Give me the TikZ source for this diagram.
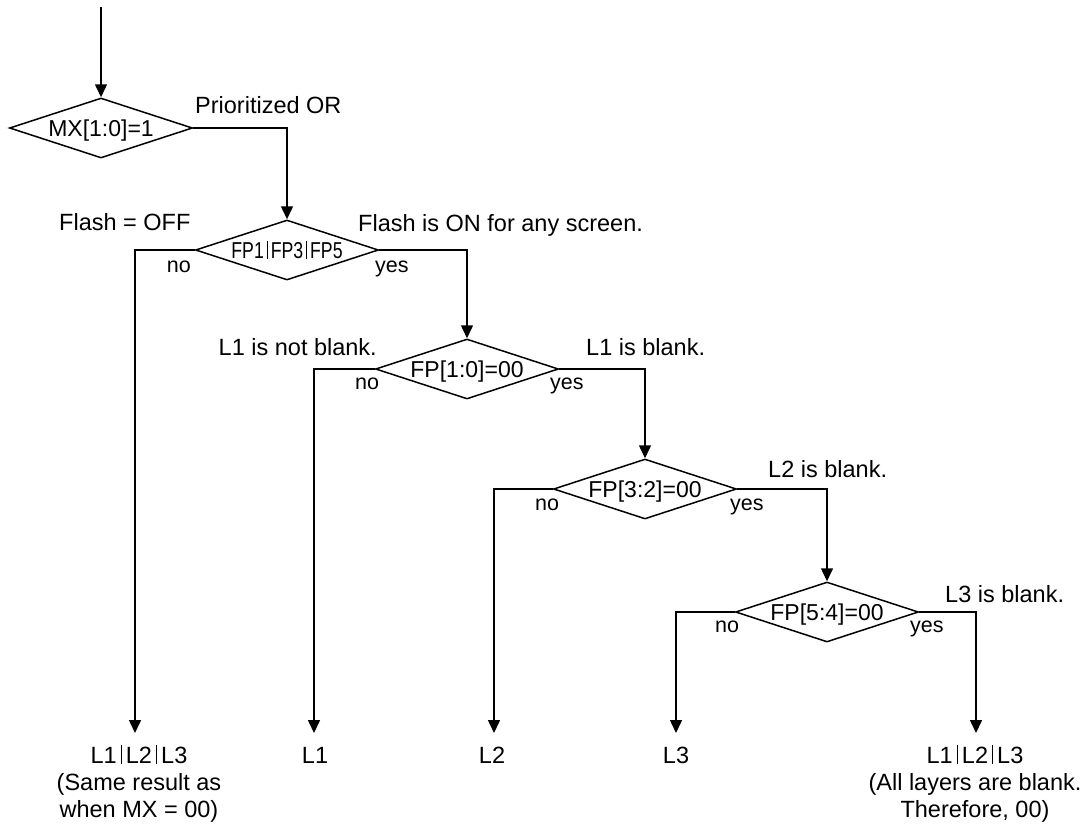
\documentclass[tikz,border=0pt]{standalone}
\usepackage{fontspec}
\setmainfont{Liberation Sans}
\usetikzlibrary{shapes.geometric,arrows.meta}
\newcommand{\vb}{\hspace{0.17em}\rule[-0.02em]{0.05em}{0.78em}\hspace{0.17em}}
\begin{document}
\begin{tikzpicture}[x=1pt,y=-1pt,
  decbox/.style={draw,line width=1.5pt,shape=diamond,aspect=3.05,inner sep=0pt,minimum width=183pt,minimum height=60pt,text height=16.5pt,text depth=0pt,font=\fontsize{23}{27}\selectfont},
  lab/.style={inner sep=0pt,font=\fontsize{23.5}{27}\selectfont},
  yn/.style={inner sep=0pt,font=\fontsize{21.5}{26}\selectfont},
  flow/.style={line width=1.5pt,-{Triangle[length=13pt,width=12pt]}}]
\useasboundingbox (0,0) rectangle (1091,827);

% decisions
\node[decbox] (d1) at (101,128) {MX[1:0]=1};
\node[decbox] (d2) at (287,250) {\scalebox{0.77}[1]{FP1\vb FP3\vb FP5}};
\node[decbox] (d3) at (467,369) {FP[1:0]=00};
\node[decbox] (d4) at (645,489) {FP[3:2]=00};
\node[decbox] (d5) at (827,612) {FP[5:4]=00};

% results
\node[lab,anchor=north,align=center] (r0) at (139,745) {L1\vb L2\vb L3\\(Same result as\\when MX = 00)};
\node[lab,anchor=base] (r1) at (315,763) {L1};
\node[lab,anchor=base] (r2) at (492,763) {L2};
\node[lab,anchor=base] (r3) at (676,763) {L3};
\node[lab,anchor=north,align=center] (r4) at (975,745) {L1\vb L2\vb L3\\(All layers are blank.\\Therefore, 00)};

% arrow end points
\coordinate (s0) at (101,7);
\coordinate (e0) at (135,733);
\coordinate (e1) at (314,733);
\coordinate (e2) at (494,733);
\coordinate (e3) at (676,733);
\coordinate (e4) at (976,733);

% texts
\node[lab,anchor=base west] (tp) at (195,113) {Prioritized OR};
\node[lab,anchor=base west] (toff) at (59,230) {Flash = OFF};
\node[lab,anchor=base west] (ton) at (358,231) {Flash is ON for any screen.};
\node[yn,anchor=base east] (n2) at (191,272) {no};
\node[yn,anchor=base west] (y2) at (375,272) {yes};
\node[lab,anchor=base east] (t3a) at (377,355) {L1 is not blank.};
\node[lab,anchor=base west] (t3b) at (586,355) {L1 is blank.};
\node[yn,anchor=base west] (n3) at (355,389) {no};
\node[yn,anchor=base west] (y3) at (550,389) {yes};
\node[lab,anchor=base west] (t4) at (768,477) {L2 is blank.};
\node[yn,anchor=base west] (n4) at (535,510) {no};
\node[yn,anchor=base west] (y4) at (730,510) {yes};
\node[lab,anchor=base west] (t5) at (945,602) {L3 is blank.};
\node[yn,anchor=base west] (n5) at (715,632) {no};
\node[yn,anchor=base west] (y5) at (910,632) {yes};

% connectors
\draw[flow] (s0) -- (d1.north);
\draw[flow] (d1.east) -| (d2.north);
\draw[flow] (d2.west) -| (e0);
\draw[flow] (d2.east) -| (d3.north);
\draw[flow] (d3.west) -| (e1);
\draw[flow] (d3.east) -| (d4.north);
\draw[flow] (d4.west) -| (e2);
\draw[flow] (d4.east) -| (d5.north);
\draw[flow] (d5.west) -| (e3);
\draw[flow] (d5.east) -| (e4);
\end{tikzpicture}
\end{document}
